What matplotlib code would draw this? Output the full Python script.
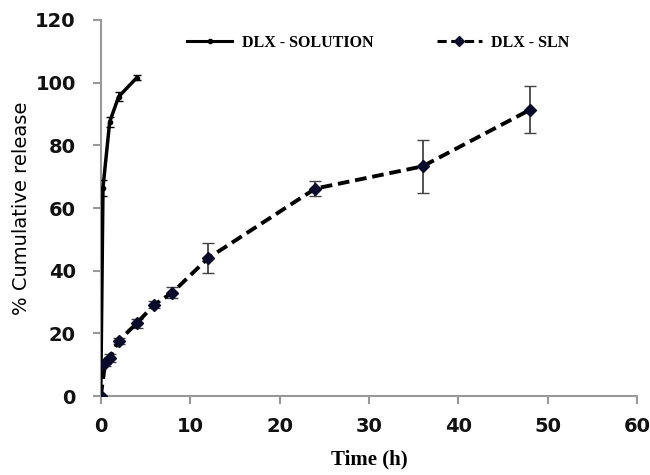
import matplotlib.pyplot as plt
from matplotlib.lines import Line2D

sol_t = [0, 0.25, 1, 2, 4]
sol_rel = [0, 66.5, 87.5, 95.5, 101.5]
sol_err = [0, 2.5, 1.5, 1.5, 0.8]

sln_t = [0, 0.5, 1, 2, 4, 6, 8, 12, 24, 36, 48]
sln_rel = [0, 10.5, 12.2, 17.6, 23.2, 29.2, 33.0, 44.0, 66.2, 73.3, 91.3]
sln_err = [0, 1.0, 1.2, 1.0, 1.5, 1.2, 1.8, 4.7, 2.4, 8.5, 7.5]

fig = plt.figure(figsize=(6.5, 4.75), dpi=100)
ax = fig.add_axes([0.155, 0.166, 0.825, 0.792])

ax.errorbar(sol_t, sol_rel, yerr=sol_err, color="black", lw=2.5, marker="o",
            ms=3, capsize=3, elinewidth=1.2, zorder=3)
ax.errorbar(sln_t, sln_rel, yerr=sln_err, color="black", lw=2.8, ls=(0, (3, 1.5)),
            marker="D", ms=6, mfc="#0a0a2a", mec="#0a0a2a", ecolor="#444444",
            capsize=4, elinewidth=1.3, zorder=3)

ax.set_xlim(0, 60)
ax.set_ylim(0, 120)
ax.set_xticks(range(0, 61, 10))
ax.set_yticks(range(0, 121, 20))
for s in ["top", "right"]:
    ax.spines[s].set_visible(False)
for s in ["left", "bottom"]:
    ax.spines[s].set_color("#999999")
    ax.spines[s].set_linewidth(1.5)
ax.tick_params(axis="both", colors="#999999", length=6, width=1.5,
               labelcolor="#111111", labelsize=14)
ax.tick_params(axis="y", pad=12)
ax.tick_params(axis="x", pad=9)
for lbl in ax.get_xticklabels() + ax.get_yticklabels():
    lbl.set_fontweight("bold")

ax.set_xlabel("Time (h)", fontsize=15, fontweight="bold", family="Liberation Serif", labelpad=10)
ax.set_ylabel("% Cumulative release", fontsize=14, labelpad=3)

handles = [
    Line2D([], [], color="black", lw=2.2, marker="o", ms=3),
    Line2D([], [], color="black", lw=2.2, ls=(0, (3, 1.5)), marker="D", ms=5,
           mfc="#0a0a2a", mec="#0a0a2a"),
]
ax.legend(handles, ["DLX - SOLUTION", "DLX - SLN"], loc="center",
          bbox_to_anchor=(0.518, 0.94), ncol=2, frameon=False,
          prop={"family": "Liberation Serif", "weight": "bold", "size": 11.5},
          handlelength=2.8, columnspacing=4.0, handletextpad=0.6)

fig.savefig("out.png")
